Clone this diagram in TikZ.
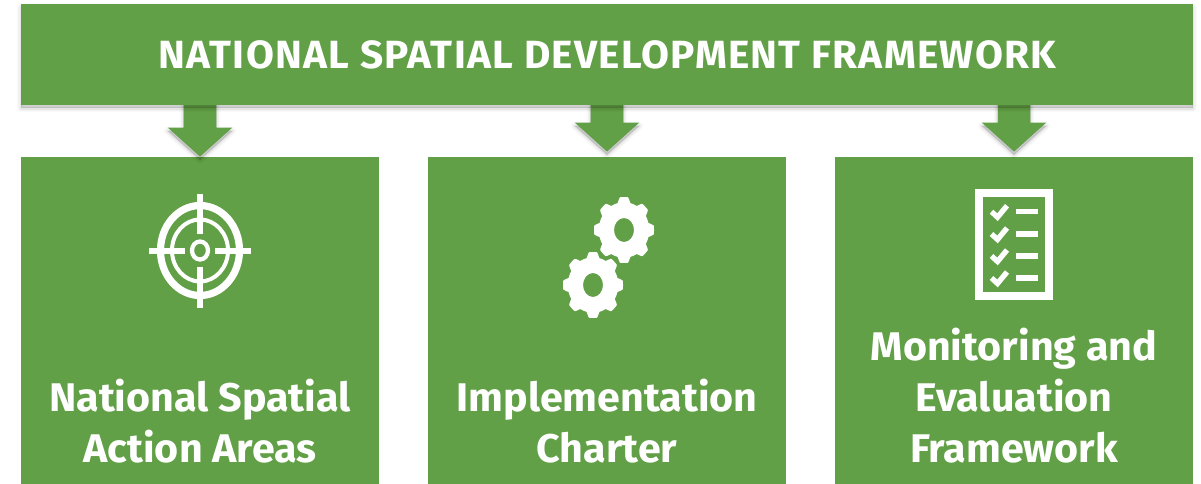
\documentclass[tikz,border=0pt]{standalone}
\usepackage{fontspec}
\setmainfont{Fira Sans}[FakeStretch=1.03]
\usetikzlibrary{shapes.arrows}
\definecolor{leaf}{HTML}{61A046}
\pgfmathdeclarefunction{gearr}{1}{\pgfmathparse{0.92+0.08*max(-1,min(1,2.2*cos(8*#1)))}}
\tikzset{
  softshadow/.style={
    preaction={draw=black,fill=black,opacity=.02,line width=6pt,line join=round,transform canvas={yshift=-2.5pt}},
    preaction={draw=black,fill=black,opacity=.03,line width=4pt,line join=round,transform canvas={yshift=-2.5pt}},
    preaction={draw=black,fill=black,opacity=.05,line width=2pt,line join=round,transform canvas={yshift=-2.5pt}},
    preaction={fill=black,opacity=.06,transform canvas={yshift=-2.5pt}}},
  panel/.style={fill=leaf,draw=none,inner sep=0pt,minimum height=245.25pt,minimum width=268.5pt},
  drop/.style={single arrow,shape border rotate=270,fill=leaf,draw=none,inner sep=0pt,anchor=tip,
    minimum width=48pt,single arrow head extend=12pt,single arrow tip angle=96},
  lbl/.style={text=white,font=\fontsize{30}{38.3}\selectfont\bfseries,align=center,inner sep=0pt},
  ico/.style={draw=white,fill=none},
}
\begin{document}
\begin{tikzpicture}[x=0.75pt,y=-0.75pt]
\useasboundingbox[fill=white] (0,0) rectangle (1201,484);
% panels
\node[panel] (p1) at (199.5,320.5) {};
\node[panel,minimum width=268pt] (p2) at (607,320.5) {};
\node[panel,minimum width=268.5pt] (p3) at (1014,320.5) {};
% arrows
\node[drop,softshadow,minimum height=41pt] (a1) at (200,157) {\rule{24pt}{0pt}};
\node[drop,softshadow,minimum height=37pt] (a2) at (607,152) {\rule{24pt}{0pt}};
\node[drop,softshadow,minimum height=37pt] (a3) at (1014,152) {\rule{24pt}{0pt}};
% banner
\node[softshadow,fill=leaf,inner sep=0pt,minimum width=879pt,minimum height=75.75pt] (top) at (607,54.5) {};
\node[text=white,inner sep=0pt,font=\fontsize{29.5}{34}\selectfont\bfseries\addfontfeatures{LetterSpace=3.2}] (title) at (607.5,55) {NATIONAL SPATIAL DEVELOPMENT FRAMEWORK};
% labels
\node[lbl] (l1) at (200,421.5) {National Spatial\\Action Areas};
\node[lbl] (l2) at (607,421.5) {Implementation\\Charter};
\node[lbl] (l3) at (1014,395.5) {Monitoring and\\Evaluation\\Framework};
% target icon
\draw[ico,line width=5.4pt] (200,250.5) ellipse [x radius=39.5,y radius=45];
\draw[ico,line width=3pt] (200,250.5) ellipse [x radius=28,y radius=31];
\draw[ico,line width=3.2pt] (200,250.5) ellipse [x radius=8,y radius=9];
\draw[ico,line width=4.6pt] (149,251) -- (185,251) (215,251) -- (251,251);
\draw[ico,line width=4.2pt] (200,194) -- (200,234) (200,267) -- (200,308);
% gears
\foreach \cx/\cy in {624/230,593/285}{
  \fill[white,even odd rule] plot[variable=\t,domain=0:360,samples=193,smooth]
    ({\cx+30*gearr(\t)*cos(\t)},{\cy+33*gearr(\t)*sin(\t)}) -- cycle
    (\cx,\cy) ellipse [x radius=10,y radius=12];
}
% checklist
\draw[ico,line width=5.5pt] (979,193) rectangle (1049,296);
\foreach \y in {211.7,234,256,278}{
  \draw[ico,line width=4pt] (991.5,\y) -- (997.5,\y+5.5) -- (1007,\y-6);
  \fill[white] (1016,\y-2.8) rectangle (1038,\y+2.8);
}
\end{tikzpicture}
\end{document}
